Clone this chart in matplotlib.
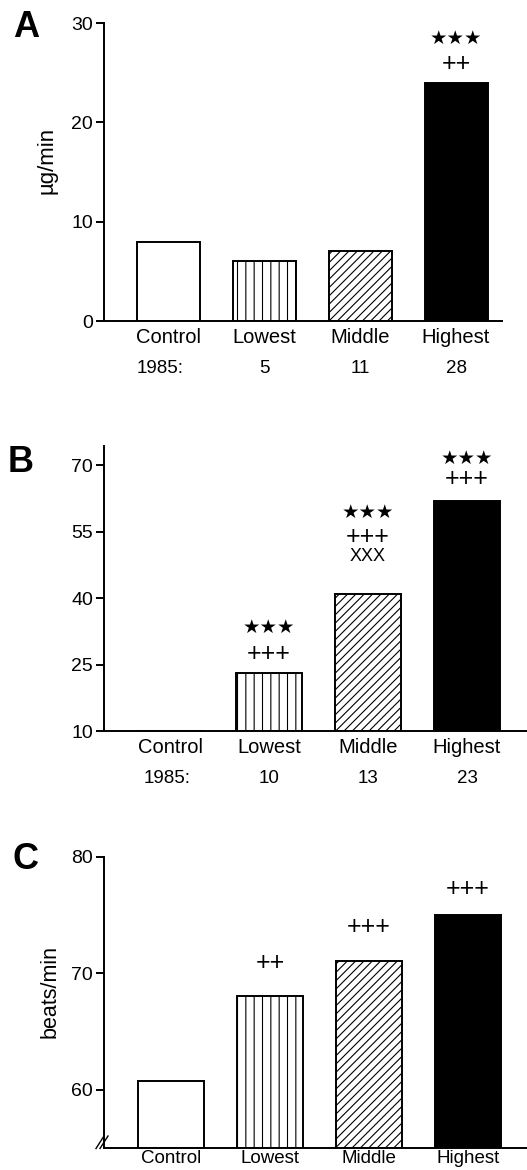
import matplotlib
matplotlib.use("Agg")
import matplotlib.pyplot as plt
from matplotlib.transforms import blended_transform_factory

plt.rcParams['font.family'] = ['Liberation Sans', 'DejaVu Sans']
plt.rcParams['hatch.linewidth'] = 0.8
plt.rcParams['hatch.color'] = 'black'

# ---------------- data ----------------
categories = ['Control', 'Lowest', 'Middle', 'Highest']
a_values = [8, 6, 7, 24]
b_values = [10, 23, 41, 62]
c_values = [60.7, 68, 71, 75]

a_counts = ['1985:', '5', '11', '28']
b_counts = ['1985:', '10', '13', '23']

a_ticks = [0, 10, 20, 30]
b_ticks = [10, 25, 40, 55, 70]
c_ticks = [60, 70, 80]

# significance marks (bar index, text lines from bottom up)
a_marks = {3: ['++', '★★★']}
b_marks = {1: ['+++', '★★★'], 2: ['XXX', '+++', '★★★'], 3: ['+++', '★★★']}
c_marks = {1: ['++'], 2: ['+++'], 3: ['+++']}

# ---------------- layout ----------------
W, H = 527, 1170
fig = plt.figure(figsize=(W / 100, H / 100), dpi=100)

def rect(l, r, top, bot):
    return [l / W, 1 - bot / H, (r - l) / W, (bot - top) / H]

faces = ['white', 'white', 'white', 'black']
hatches = [None, '||', '////', None]
LW = 1.4

# offsets (points) of each mark line above the bar top
mark_offsets = {
    'A': {3: [13.7, 31.7]},
    'B': {1: [13.7, 33.1], 2: [26.6, 41.0, 58.3], 3: [15.8, 30.2]},
    'C': {1: [23.8], 2: [24.5], 3: [18.7]},
}

def panel(ax, values, ylim, xlim, width, ticks, marks, offs, counts=None,
          first_shift=0.0, ylabel=None, ylabel_xy=None, ylabel_size=15,
          xlab_size=14.5, xlab_pad=5):
    x = range(len(categories))
    bars = ax.bar(x, [v - ylim[0] for v in values], bottom=ylim[0], width=width,
                  color=faces, edgecolor='black', linewidth=LW, zorder=2)
    for b, h in zip(bars, hatches):
        if h:
            b.set_hatch(h)
    ax.set_xlim(*xlim)
    ax.set_ylim(*ylim)
    ax.set_yticks(ticks)
    ax.set_yticklabels([str(t) for t in ticks])
    ax.set_xticks(list(x))
    ax.set_xticklabels(categories)
    ax.tick_params(axis='x', length=0, pad=xlab_pad, labelsize=xlab_size)
    ax.tick_params(axis='y', length=6, width=LW, pad=2, labelsize=14)
    for s in ['top', 'right']:
        ax.spines[s].set_visible(False)
    for s in ['left', 'bottom']:
        ax.spines[s].set_linewidth(LW)
    for i, lines in marks.items():
        for txt, off in zip(lines, offs[i]):
            if '★' in txt:
                fp = dict(fontsize=14, family=['DejaVu Sans'])
            elif 'X' in txt:
                fp = dict(fontsize=13)
            else:
                fp = dict(fontsize=18)
            ax.annotate(txt, xy=(i, values[i]), xytext=(0, off),
                        textcoords='offset points', ha='center', va='center',
                        **fp)
    if counts:
        tr = blended_transform_factory(ax.transData, ax.transAxes)
        for i, c in enumerate(counts):
            dx = first_shift if i == 0 else 0
            ax.annotate(c, xy=(i, 0), xycoords=tr, xytext=(dx, -34.5),
                        textcoords='offset points', ha='center', va='center',
                        fontsize=13.5)
    if ylabel:
        ax.set_ylabel(ylabel, fontsize=ylabel_size)
        ax.yaxis.label.set(ha='center', va='center', rotation_mode='default')
        ax.yaxis.set_label_coords(*ylabel_xy)

axA = fig.add_axes(rect(104, 502, 23, 321))
panel(axA, a_values, (0, 30), (-0.667, 3.479), 0.656, a_ticks, a_marks,
      mark_offsets['A'], counts=a_counts, first_shift=-5.8, ylabel='µg/min',
      ylabel_xy=((47.5 - 104) / 398, (321 - 160.7) / 298), ylabel_size=16)

axB = fig.add_axes(rect(104, 527, 446, 731))
panel(axB, b_values, (10, 74.3), (-0.667, 3.606), 0.667, b_ticks, b_marks,
      mark_offsets['B'], counts=b_counts, first_shift=-2.2)

axC = fig.add_axes(rect(104, 527, 856.7, 1147.7))
panel(axC, c_values, (55, 80), (-0.677, 3.596), 0.67, c_ticks, c_marks,
      mark_offsets['C'], ylabel='beats/min',
      ylabel_xy=((50 - 104) / 423, (1147.7 - 991) / 291), ylabel_size=15.5,
      xlab_size=13.5, xlab_pad=2)

# axis-break mark on panel C
for dx in (-4, 0):
    x0 = (98 + dx + 2 - 104) / 423
    x1 = (106 + dx + 2 - 104) / 423
    axC.plot([x0, x1], [-(1148.5 - 1147.7) / 291, (1147.7 - 1136) / 291],
             transform=axC.transAxes, color='black', lw=1.0, clip_on=False)

# panel letters
for letter, cx, base in [('A', 26, 37), ('B', 21, 472), ('C', 26, 869)]:
    fig.text(cx / W, 1 - base / H, letter, fontsize=26, fontweight='bold',
             ha='center', va='baseline')

fig.savefig('out.png', dpi=100)
